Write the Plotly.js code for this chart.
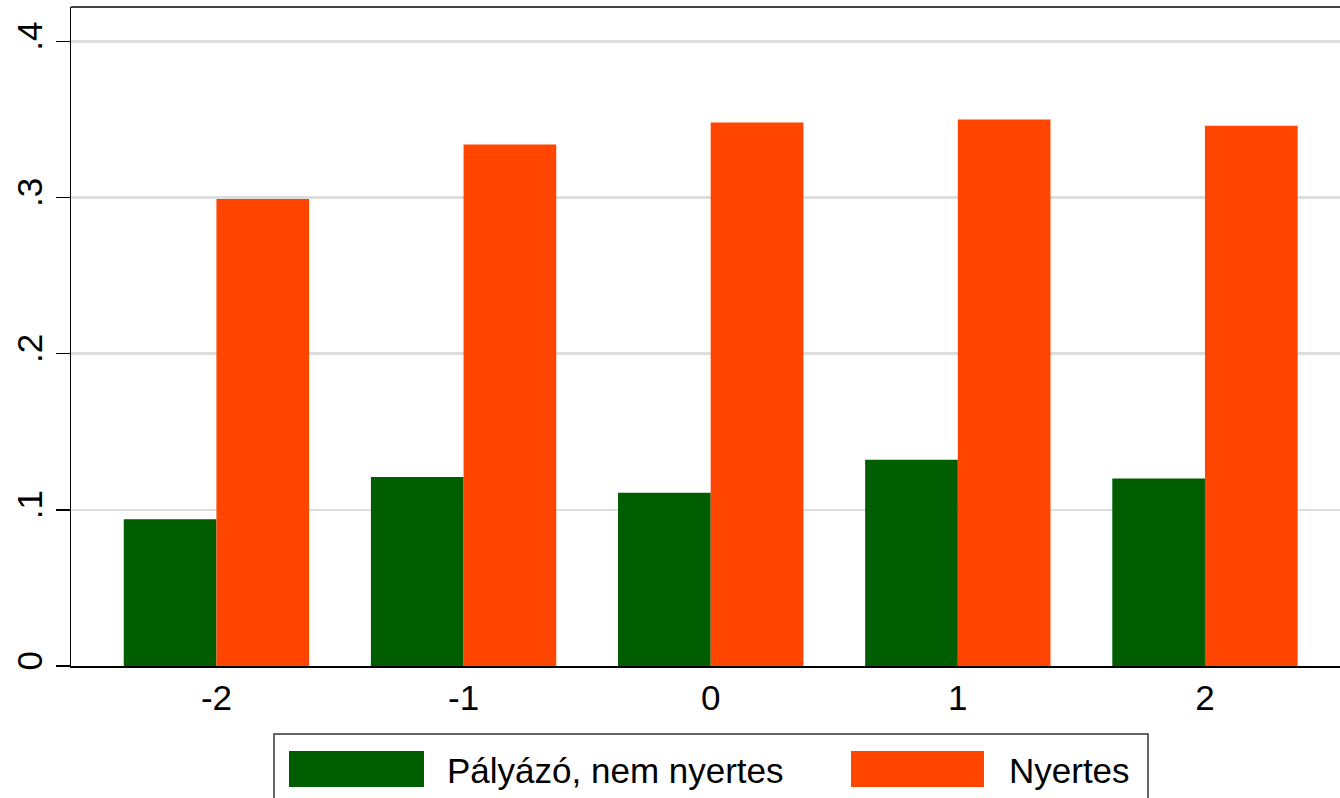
<!DOCTYPE html>
<html>
<head>
<meta charset="utf-8">
<script src="https://cdn.plot.ly/plotly-3.0.1.min.js"></script>
<style>html,body{margin:0;padding:0;background:#fff;}#chart{width:1340px;height:798px;}</style>
</head>
<body>
<div id="chart"></div>
<script>
// ---- data ----
const years = [-2, -1, 0, 1, 2];
const seriesNames = ["Pályázó, nem nyertes", "Nyertes"];
const nemNyertes = [0.094, 0.121, 0.111, 0.132, 0.120];
const nyertes = [0.299, 0.334, 0.348, 0.350, 0.346];
const yTickVals = [0, 0.1, 0.2, 0.3, 0.4];
const yTickText = ["0", ".1", ".2", ".3", ".4"];
const colors = ["rgb(0,94,0)", "rgb(255,69,0)"];

// ---- geometry ----
const W = 1340, H = 798;
const mL = 71, mR = 0, mT = 7, mB = 132;
const plotW = W - mL - mR, plotH = H - mT - mB;
const px = x => (x - mL) / plotW;
const py = y => (H - mB - y) / plotH;
const FONT = "Liberation Sans, Arial, Helvetica, sans-serif";
const FS = 35;

const traces = [
  {type: "bar", x: years, y: nemNyertes, name: seriesNames[0], marker: {color: colors[0]}, hoverinfo: "x+y"},
  {type: "bar", x: years, y: nyertes, name: seriesNames[1], marker: {color: colors[1]}, hoverinfo: "x+y"}
];

const legendItems = [
  {sw0: 289, sw1: 424, tx: 445},
  {sw0: 851, sw1: 984, tx: 1007}
];

const shapes = [
  {type: "line", xref: "paper", yref: "paper", x0: 0, x1: 1, y0: 1, y1: 1, line: {color: "#444", width: 2}},
  {type: "rect", xref: "paper", yref: "paper", x0: px(274), x1: px(1148), y0: py(734), y1: py(812),
   line: {color: "#333", width: 1.5}, fillcolor: "rgba(0,0,0,0)"}
];
const annotations = [];
legendItems.forEach((it, i) => {
  shapes.push({type: "rect", xref: "paper", yref: "paper", x0: px(it.sw0), x1: px(it.sw1), y0: py(751), y1: py(787),
    line: {width: 0}, fillcolor: colors[i]});
  annotations.push({xref: "paper", yref: "paper", x: px(it.tx), y: py(770), xanchor: "left", yanchor: "middle",
    showarrow: false, text: seriesNames[i], font: {family: FONT, size: FS, color: "#000"}});
});

const layout = {
  width: W, height: H,
  margin: {l: mL, r: mR, t: mT, b: mB, pad: 0},
  paper_bgcolor: "#fff", plot_bgcolor: "#fff",
  showlegend: false,
  barmode: "group", bargap: 0.25, bargroupgap: 0,
  font: {family: FONT, size: FS, color: "#000"},
  xaxis: {
    type: "linear", range: [-2.5885, 2.5464],
    tickvals: years, ticktext: years.map(String),
    showgrid: false, zeroline: false,
    showline: true, linecolor: "#000", linewidth: 1.5,
    ticks: "", tickfont: {family: FONT, size: FS, color: "#000"}
  },
  yaxis: {
    range: [0, 0.422],
    tickvals: yTickVals, ticktext: yTickText, tickangle: -90,
    ticks: "outside", ticklen: 14, tickwidth: 1.5, tickcolor: "#000",
    showgrid: true, gridcolor: "#dddddd", gridwidth: 2.5,
    zeroline: false, showline: true, linecolor: "#000", linewidth: 1.5,
    tickfont: {family: FONT, size: FS, color: "#000"}
  },
  shapes: shapes,
  annotations: annotations
};

Plotly.newPlot("chart", traces, layout, {displayModeBar: false, staticPlot: true});
</script>
</body>
</html>
